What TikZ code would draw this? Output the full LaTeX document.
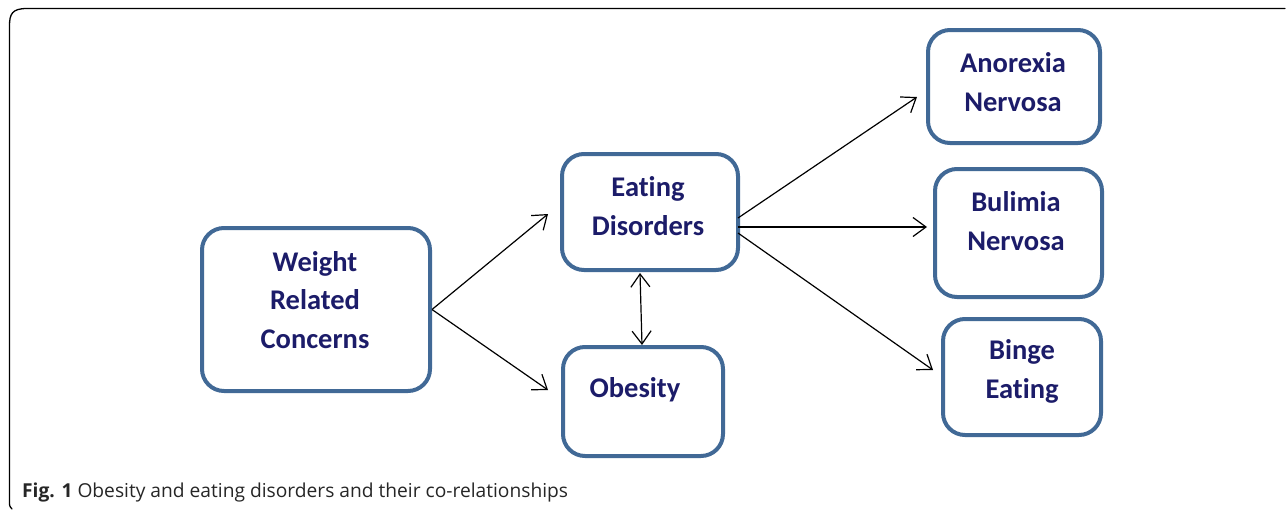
\documentclass[tikz,border=0pt]{standalone}
\usepackage{fontspec}
\setmainfont{Carlito}[RawFeature={-liga;-clig;-dlig}]
\newfontfamily\capfont{Open Sans}
\usetikzlibrary{arrows.meta}
\definecolor{boxblue}{RGB}{65,105,150}
\definecolor{txtnavy}{RGB}{28,28,105}
\tikzset{
  box/.style={draw=boxblue, line width=4pt, rounded corners=22pt, inner sep=0pt, fill=white},
  lbl/.style={font=\fontsize{28.5}{38.5}\selectfont\bfseries, text=txtnavy, align=center, anchor=base, inner sep=0pt},
  barb/.style={Straight Barb[length=13pt,width=19pt]},
  conn/.style={line width=1.2pt, -{Straight Barb[length=13pt,width=19pt]}},
  dconn/.style={line width=1.2pt, {Straight Barb[length=13pt,width=19pt]}-{Straight Barb[length=13pt,width=19pt]}}
}
\begin{document}
\begin{tikzpicture}[x=1pt,y=-1pt]
\useasboundingbox (0,0) rectangle (1287,509);
% frame
\draw[line width=1.3pt, line cap=round] (1285,8.5) -- (27,8.5) .. controls (12,8.5) and (9.5,14) .. (9.5,26) -- (9.5,502) .. controls (9.5,506) .. (12,509);
% boxes
\node[box, minimum width=228pt, minimum height=163pt] (wrc) at (316,309.5) {};
\node[box, minimum width=176pt, minimum height=116pt] (ed) at (650,212) {};
\node[box, minimum width=160pt, minimum height=109pt] (ob) at (643,401.5) {};
\node[box, minimum width=172pt, minimum height=113pt] (an) at (1014,86.5) {};
\node[box, minimum width=167pt, minimum height=128pt] (bu) at (1018.5,233) {};
\node[box, minimum width=158pt, minimum height=116pt] (be) at (1022,377) {};
% labels (anchor base = baseline of last line)
\node[lbl] (wrct) at (315,348) {Weight\\Related\\Concerns};
\node[lbl] (edt) at (648,235) {Eating\\Disorders};
\node[lbl] (obt) at (635,397) {Obesity};
\node[lbl] (ant) at (1013,111) {Anorexia\\Nervosa};
\node[lbl] (but) at (1016,250) {Bulimia\\Nervosa};
\node[lbl] (bet) at (1022,398) {Binge\\Eating};
% connectors
\draw[conn] (wrc.east) -- ([shift={(-12,2)}]ed.west);
\draw[conn] (wrc.east) -- ([shift={(-13,-11.5)}]ob.west);
\draw[dconn] ([shift={(-10,1)}]ed.south) -- ([shift={(-1,0)}]ob.north);
\draw[conn] ([shift={(-2,6)}]ed.east) -- ([shift={(-9,10.5)}]an.west);
\draw[conn] ([shift={(-2,15)}]ed.east) -- ([shift={(-6,-6)}]bu.west);
\draw[conn] ([shift={(-2,21)}]ed.east) -- ([shift={(-8,-7)}]be.west);
% caption
\node[anchor=base west, inner sep=0pt, font=\capfont\fontsize{19.2}{22}\selectfont, text=black!85] (cap) at (22,497) {\textbf{Fig. 1} Obesity and eating disorders and their co-relationships};
\end{tikzpicture}
\end{document}
